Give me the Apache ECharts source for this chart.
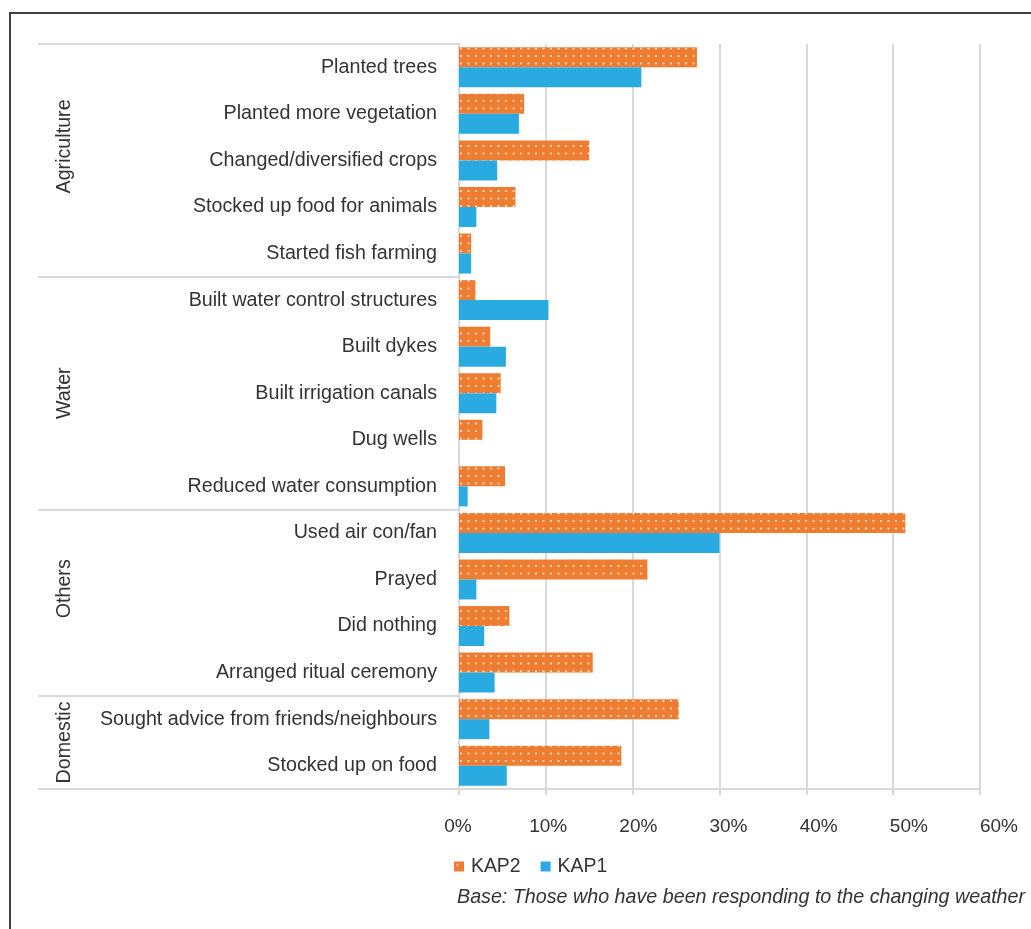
<!DOCTYPE html>
<html>
<head>
<meta charset="utf-8">
<script src="https://cdn.jsdelivr.net/npm/echarts@6/dist/echarts.min.js"></script>
<style>
html,body{margin:0;padding:0;background:#fff;}
#chart{width:1031px;height:929px;}
</style>
</head>
<body>
<div id="chart"></div>
<script>
// ---- data ----
const categories = [
  'Planted trees', 'Planted more vegetation', 'Changed/diversified crops',
  'Stocked up food for animals', 'Started fish farming',
  'Built water control structures', 'Built dykes', 'Built irrigation canals',
  'Dug wells', 'Reduced water consumption',
  'Used air con/fan', 'Prayed', 'Did nothing', 'Arranged ritual ceremony',
  'Sought advice from friends/neighbours', 'Stocked up on food'
];
const kap2 = [27.4, 7.5, 15.0, 6.5, 1.4, 1.9, 3.6, 4.8, 2.7, 5.3, 51.4, 21.7, 5.8, 15.4, 25.3, 18.7];
const kap1 = [21.0, 6.9, 4.4, 2.0, 1.4, 10.3, 5.4, 4.3, null, 1.0, 30.0, 2.0, 2.9, 4.1, 3.5, 5.5];
const seriesNames = ['KAP2', 'KAP1'];
const groupNames = ['Agriculture', 'Water', 'Others', 'Domestic'];
const groupEnds = [5, 10, 14, 16];
const groupLabelAt = [2.2, 7.5, 11.7, 15.0];
const tickValues = [0, 10, 20, 30, 40, 50, 60];
const footnote = 'Base: Those who have been responding to the changing weather';

// ---- styles ----
const FONT = '"Liberation Sans", Arial, sans-serif';
const TXT = '#333333';
const GRID = '#d9d9d9';
const ORANGE = '#EE7D31';
const BLUE = '#29ABE2';
const FS = 19.7;

function dotPattern() {
  const c = document.createElement('canvas');
  c.width = 15; c.height = 15;
  const g = c.getContext('2d');
  g.fillStyle = ORANGE;
  g.fillRect(0, 0, 15, 15);
  g.fillStyle = 'rgba(255,238,225,0.9)';
  [[3.5, 3.5], [11, 3.5], [3.5, 11], [11, 11]].forEach(p => {
    g.beginPath();
    g.arc(p[0], p[1], 1.1, 0, Math.PI * 2);
    g.fill();
  });
  return c;
}

const chart = echarts.init(document.getElementById('chart'), null, {renderer: 'canvas'});

const option = {
  animation: false,
  backgroundColor: '#fff',
  textStyle: {fontFamily: FONT},
  grid: [
    {left: 459, right: 51, top: 44, bottom: 140, containLabel: false},
    {left: 458, width: 541, top: 44, bottom: 140, containLabel: false}
  ],
  legend: {
    data: seriesNames,
    left: 449, top: 852,
    icon: 'rect',
    itemWidth: 10, itemHeight: 10, itemGap: 20,
    textStyle: {fontSize: 19.4, color: TXT, fontFamily: FONT, padding: [0, 0, 0, 2]}
  },
  xAxis: [
    {
      type: 'value', gridIndex: 0, min: 0, max: 60, interval: 10,
      axisLine: {show: true, lineStyle: {color: GRID, width: 2}},
      axisTick: {show: true, length: 6, lineStyle: {color: GRID, width: 2}},
      axisLabel: {show: false},
      splitLine: {show: true, lineStyle: {color: GRID, width: 2}}
    },
    {
      type: 'value', gridIndex: 1, min: 0, max: 60, interval: 10,
      axisLine: {show: false}, axisTick: {show: false}, splitLine: {show: false},
      axisLabel: {
        show: true, margin: 28, fontSize: 19, color: TXT, fontFamily: FONT,
        formatter: v => tickValues.indexOf(v) >= 0 ? v + '%' : ''
      }
    }
  ],
  yAxis: [
    {
      type: 'category', gridIndex: 0, inverse: true, data: categories,
      axisLine: {show: true, lineStyle: {color: GRID, width: 2}},
      axisTick: {show: false},
      axisLabel: {fontSize: FS, color: TXT, margin: 22, fontFamily: FONT}
    },
    {type: 'value', gridIndex: 1, show: false}
  ],
  series: [
    {
      name: seriesNames[0], type: 'bar', xAxisIndex: 0, yAxisIndex: 0,
      data: kap2, barWidth: 20, barGap: '0%',
      itemStyle: {color: {image: dotPattern(), repeat: 'repeat'}}
    },
    {
      name: seriesNames[1], type: 'bar', xAxisIndex: 0, yAxisIndex: 0,
      data: kap1, barWidth: 20, barGap: '0%',
      itemStyle: {color: BLUE}
    }
  ]
};
chart.setOption(option);

// group separators and group labels derived from the category axis
const c0 = chart.convertToPixel({yAxisIndex: 0}, 0);
const c1 = chart.convertToPixel({yAxisIndex: 0}, 1);
const band = c1 - c0;
const edge = i => c0 + (i - 0.5) * band;
const x0 = chart.convertToPixel({xAxisIndex: 0}, 0);
const graphics = [];
const bounds = [0].concat(groupEnds);
bounds.forEach(b => {
  const y = Math.round(edge(b));
  graphics.push({
    type: 'line', silent: true,
    shape: {x1: 38, y1: y, x2: x0, y2: y},
    style: {stroke: GRID, lineWidth: 2}
  });
});
groupNames.forEach((name, i) => {
  graphics.push({
    type: 'text', silent: true,
    x: 65, y: edge(groupLabelAt[i]),
    rotation: Math.PI / 2,
    style: {text: name, fontSize: FS, fill: TXT, fontFamily: FONT, align: 'center', verticalAlign: 'middle'}
  });
});
graphics.push({
  type: 'text', silent: true, left: 457, top: 888,
  style: {text: footnote, fontSize: FS, fontStyle: 'italic', fill: TXT, fontFamily: FONT}
});
graphics.push({
  type: 'rect', silent: true,
  shape: {x: 10, y: 13, width: 1200, height: 1200},
  style: {fill: 'none', stroke: '#404040', lineWidth: 2}
});
chart.setOption({graphic: graphics});
</script>
</body>
</html>
